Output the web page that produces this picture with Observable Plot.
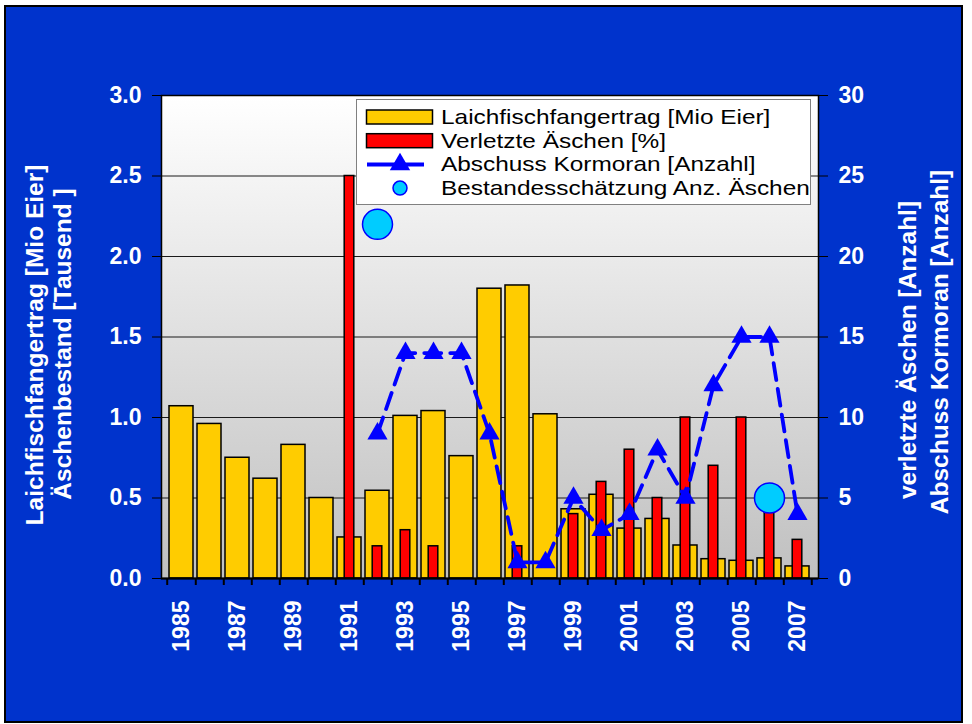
<!DOCTYPE html>
<html>
<head>
<meta charset="utf-8">
<script src="https://cdn.jsdelivr.net/npm/d3@7"></script>
<script src="https://cdn.jsdelivr.net/npm/@observablehq/plot@0.6"></script>
<style>
  body { margin: 0; background: #ffffff; font-family: "Liberation Sans", Arial, sans-serif; }
  #wrap { position: relative; width: 972px; height: 724px; overflow: hidden; }
  #panel { position: absolute; left: 4px; top: 5px; width: 955px; height: 714px; background: #0033CC; border: 2px solid #000; }
  #chart { position: absolute; left: 0; top: 0; }
  #legend { position: absolute; left: 356px; top: 99px; }
</style>
</head>
<body>
<div id="wrap">
  <div id="panel"></div>
  <div id="chart"></div>
  <div id="legend"></div>
</div>
<script>
// Jahre
const years = [1985, 1986, 1987, 1988, 1989, 1990, 1991, 1992, 1993, 1994, 1995, 1996,
               1997, 1998, 1999, 2000, 2001, 2002, 2003, 2004, 2005, 2006, 2007];
// Laichfischfangertrag [Mio Eier]
const laich = [1.07, 0.96, 0.75, 0.62, 0.83, 0.50, 0.255, 0.545, 1.01, 1.04, 0.76, 1.80,
               1.82, 1.02, 0.43, 0.52, 0.31, 0.37, 0.205, 0.12, 0.11, 0.125, 0.075];
// Verletzte Äschen [%] (rechte Achse)
const verletzt = [null, null, null, null, null, null, 25, 2, 3, 2, null, null,
                  2, null, 4, 6, 8, 5, 10, 7, 10, 5, 2.4];
// Abschuss Kormoran [Anzahl] (rechte Achse)
const kormoran = [null, null, null, null, null, null, null, 9, 14, 14, 14, 9,
                  1, 1, 5, 3, 4, 8, 5, 12, 15, 15, 4];
// Bestandesschätzung [Tausend Äschen]
const bestandYears = [1992, 2006];
const bestandValues = [2.2, 0.5];

// Achsenbeschriftungen
const leftTicks = [0, 0.5, 1, 1.5, 2, 2.5, 3];
const rightTickLabels = ["0", "5", "10", "15", "20", "25", "30"];
const yearLabels = [1985, 1987, 1989, 1991, 1993, 1995, 1997, 1999, 2001, 2003, 2005, 2007];
const rightFactor = 10; // rechte Achse = linke Achse × 10

const legendLabels = ["Laichfischfangertrag [Mio Eier]", "Verletzte Äschen [%]",
                      "Abschuss Kormoran [Anzahl]", "Bestandesschätzung Anz. Äschen"];

const rows = years.map((year, i) => ({year, laich: laich[i], verletzt: verletzt[i], kormoran: kormoran[i]}));
const bestand = bestandYears.map((year, i) => ({year, v: bestandValues[i]}));

const W = 972, H = 724, mL = 161, mR = 154, mT = 95, mB = 146;
const step = (W - mL - mR) / years.length;
const font = "'Liberation Sans', Arial, sans-serif";
const white = "#ffffff";
const titleStyle = {rotate: -90, textAnchor: "middle", fill: white, fontSize: 24.5, fontWeight: "bold"};

const plot = Plot.plot({
  width: W, height: H,
  marginLeft: mL, marginRight: mR, marginTop: mT, marginBottom: mB,
  style: {background: "transparent", fontFamily: font, overflow: "visible"},
  x: {type: "band", domain: years, paddingInner: 0.14, paddingOuter: 0.07, align: 0.5, label: null},
  y: {domain: [0, 3], label: null},
  marks: [
    Plot.frame({fill: "url(#plotbg)", stroke: null}),
    Plot.gridY({ticks: leftTicks, stroke: "#1a1a1a", strokeOpacity: 1, strokeWidth: 1}),
    Plot.barY(rows, {x: "year", y: "laich", fill: "#FFCC00", stroke: "#000", strokeWidth: 1.5}),
    Plot.barY(rows.filter(d => d.verletzt != null), {
      x: "year", y: d => d.verletzt / rightFactor,
      fill: "#FF0000", stroke: "#000", strokeWidth: 1.5, insetLeft: 7.2, insetRight: 7.2
    }),
    Plot.line(rows.filter(d => d.kormoran != null), {
      x: "year", y: d => d.kormoran / rightFactor,
      stroke: "#0000FF", strokeWidth: 3.8, strokeDasharray: "17,9"
    }),
    Plot.dot(rows.filter(d => d.kormoran != null), {
      x: "year", y: d => d.kormoran / rightFactor,
      symbol: "triangle", r: 7.5, fill: "#0000FF", stroke: null
    }),
    Plot.dot(bestand, {x: "year", y: "v", r: 15, fill: "#00CCFF", stroke: "#0000FF", strokeWidth: 1.5}),
    Plot.frame({stroke: "#000", strokeWidth: 1.5}),
    Plot.ruleY([0], {stroke: "#000", strokeWidth: 2}),
    // linke Achse
    Plot.axisY({anchor: "left", ticks: leftTicks, tickFormat: d => d.toFixed(1),
      tickSize: 9, tickPadding: 11, stroke: "#000", fill: white,
      fontSize: 23, fontWeight: "bold", label: null}),
    // rechte Achse
    Plot.axisY({anchor: "right", ticks: leftTicks, tickFormat: (d, i) => rightTickLabels[i],
      tickSize: 9, tickPadding: 11, stroke: "#000", fill: white,
      fontSize: 23, fontWeight: "bold", label: null}),
    // Jahreszahlen
    Plot.axisX({ticks: yearLabels, tickFormat: d => String(d), tickSize: 0, tickPadding: 22,
      tickRotate: -90, fill: white, fontSize: 23, fontWeight: "bold", label: null}),
    // Teilstriche an den Kategoriegrenzen
    Plot.axisX({ticks: years, tickSize: 7, fill: "none", stroke: "#000", strokeWidth: 2, dx: step / 2, label: null}),
    Plot.axisX({ticks: years.slice(0, 1), tickSize: 7, fill: "none", stroke: "#000", strokeWidth: 2, dx: -step / 2, label: null}),
    // Achsentitel
    Plot.text(["Laichfischfangertrag [Mio Eier]"], {frameAnchor: "left", dx: -126, dy: 8, ...titleStyle}),
    Plot.text(["Äschenbestand [Tausend ]"], {frameAnchor: "left", dx: -98, dy: 7, ...titleStyle}),
    Plot.text(["verletzte Äschen [Anzahl]"], {frameAnchor: "right", dx: 90, dy: 13, ...titleStyle}),
    Plot.text(["Abschuss Kormoran [Anzahl]"], {frameAnchor: "right", dx: 122, dy: 5, ...titleStyle})
  ]
});

// Verlauf des Diagrammhintergrunds
const defs = d3.select(plot).insert("defs", ":first-child");
const grad = defs.append("linearGradient").attr("id", "plotbg")
  .attr("x1", 0).attr("y1", 0).attr("x2", 0).attr("y2", 1);
grad.append("stop").attr("offset", 0).attr("stop-color", "#ffffff");
grad.append("stop").attr("offset", 1).attr("stop-color", "#c0c0c0");

document.getElementById("chart").appendChild(plot);

// Legende (Schrift leicht in die Breite gezogen)
const lw = 455, lh = 106, rowH = 23.7, row0 = 18;
const leg = d3.select("#legend").append("svg").attr("width", lw).attr("height", lh)
  .style("font-family", font);
leg.append("rect").attr("x", 0.5).attr("y", 0.5).attr("width", lw - 1).attr("height", lh - 1)
  .attr("fill", "#fff").attr("stroke", "#808080").attr("stroke-width", 1);
leg.append("rect").attr("x", 10.5).attr("y", row0 - 7).attr("width", 66).attr("height", 14)
  .attr("fill", "#FFCC00").attr("stroke", "#000").attr("stroke-width", 1.5);
leg.append("rect").attr("x", 10.5).attr("y", row0 + rowH - 7).attr("width", 66).attr("height", 14)
  .attr("fill", "#FF0000").attr("stroke", "#000").attr("stroke-width", 1.5);
leg.append("line").attr("x1", 11).attr("x2", 68).attr("y1", row0 + 2 * rowH).attr("y2", row0 + 2 * rowH)
  .attr("stroke", "#0000FF").attr("stroke-width", 4);
leg.append("path").attr("d", d3.symbol(d3.symbolTriangle, 180)())
  .attr("transform", `translate(44,${row0 + 2 * rowH})`).attr("fill", "#0000FF");
leg.append("circle").attr("cx", 44).attr("cy", row0 + 3 * rowH).attr("r", 7)
  .attr("fill", "#00CCFF").attr("stroke", "#0000FF").attr("stroke-width", 1.5);
leg.selectAll("text.lbl").data(legendLabels).join("text").attr("class", "lbl")
  .attr("transform", (d, i) => `translate(85,${row0 + i * rowH}) scale(1.22,1)`)
  .attr("dy", "0.35em")
  .attr("font-size", 20).attr("fill", "#000").text(d => d);
</script>
</body>
</html>
